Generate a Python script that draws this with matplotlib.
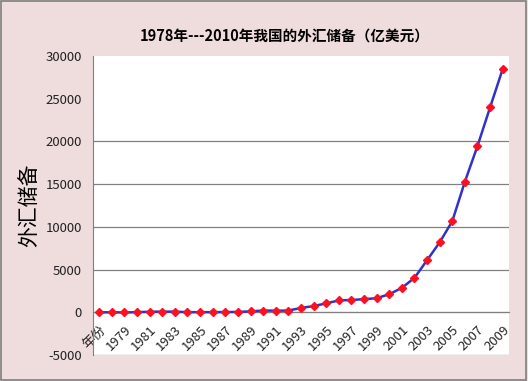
import matplotlib.pyplot as plt
from matplotlib.patches import Rectangle

plt.rcParams['font.family'] = ['Noto Sans CJK SC', 'DejaVu Sans']
plt.rcParams['axes.unicode_minus'] = False

# 外汇储备 1978-2010 (亿美元); category labels shifted by one like the original sheet
categories = ['年份'] + [str(y) for y in range(1978, 2010)]
reserves = [1.67, 8.4, -12.96, 27.08, 69.86, 89.01, 82.2, 26.44, 20.72, 29.23,
            33.72, 55.5, 110.93, 217.12, 194.43, 211.99, 516.2, 735.97, 1050.29,
            1398.9, 1449.59, 1546.75, 1655.74, 2121.65, 2864.07, 4032.51,
            6099.32, 8188.72, 10663.44, 15282.49, 19460.3, 23991.52, 28473.38]
yticks = [-5000, 0, 5000, 10000, 15000, 20000, 25000, 30000]
grid_vals = [-5000, 0, 5000, 10000, 15000, 20000]

bg = '#efdcdc'
fig = plt.figure(figsize=(5.28, 3.81), dpi=100, facecolor=bg)
fig.patches.append(Rectangle((0.002, 0.003), 0.995, 0.994, transform=fig.transFigure,
                             fill=False, edgecolor='#7f7f7f', linewidth=1.2))
ax = fig.add_axes([0.176, 0.068, 0.788, 0.785])
ax.set_facecolor('white')
# category axis crosses at 0, labels hang below it
ax.spines['bottom'].set_position(('data', 0))

x = list(range(len(categories)))
for g in grid_vals:
    ax.axhline(g, color='#808080', linewidth=0.9, zorder=1)
ax.plot(x, reserves, color='#3232c8', linewidth=1.8, marker='D', markersize=4.5,
        markerfacecolor='#ff1020', markeredgecolor='#ff1020', zorder=3)

ax.set_xlim(-0.5, len(categories) - 0.5)
ax.set_ylim(-5000, 30000)
ax.set_yticks(yticks)
ax.set_yticklabels([str(v) for v in yticks], fontsize=9.5, color='#222222')
ax.set_xticks(x[::2])
ax.set_xticklabels(categories[::2], rotation=45, ha='right', rotation_mode='anchor',
                   fontsize=9.5, color='#222222')
ax.tick_params(axis='x', length=0, pad=8)
ax.tick_params(axis='y', length=0, pad=8)
for s in ['top', 'right']:
    ax.spines[s].set_visible(False)
for s in ['left', 'bottom']:
    ax.spines[s].set_color('#808080')

ax.set_ylabel('外汇储备', fontsize=15, labelpad=4)
fig.text(0.54, 0.908, '1978年---2010年我国的外汇储备（亿美元）', ha='center', va='center',
         fontsize=10.5, fontweight='bold')

fig.savefig('out.png', dpi=100, facecolor=bg)
